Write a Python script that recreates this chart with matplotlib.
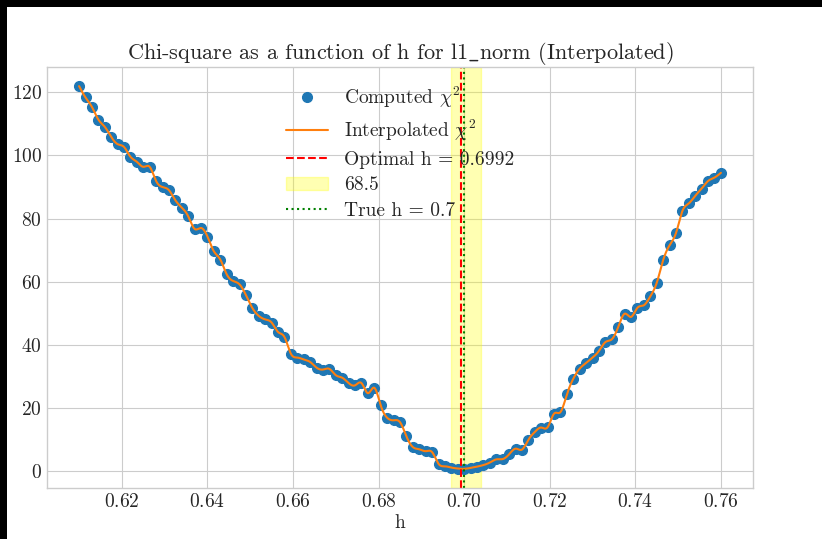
import matplotlib
matplotlib.use("Agg")
import matplotlib.pyplot as plt
import numpy as np
from matplotlib.patches import Rectangle

# grid of h values and chi-square
h_vals = np.linspace(0.61, 0.76, 101)
chi2 = [122.0, 118.4, 115.4, 111.4, 109.1, 105.9, 103.6, 102.7, 99.6, 98.0,
        96.4, 96.4, 91.9, 90.0, 89.0, 85.8, 83.5, 80.7, 76.7, 77.0,
        74.3, 69.6, 67.0, 62.3, 60.2, 59.1, 55.7, 51.6, 49.1, 48.0,
        47.0, 44.0, 42.4, 37.1, 35.9, 35.3, 34.5, 32.7, 32.1, 32.3,
        30.3, 29.5, 27.8, 27.1, 27.8, 24.6, 26.3, 20.7, 16.8, 16.0,
        15.4, 10.9, 7.5, 6.8, 6.2, 5.9, 2.2, 1.4, 1.0, 0.7,
        0.6, 0.9, 1.3, 1.8, 2.6, 3.6, 3.7, 5.2, 7.0, 6.7,
        9.8, 12.3, 13.7, 13.8, 18.1, 18.6, 24.2, 29.2, 32.4, 34.2,
        35.9, 38.0, 40.8, 41.7, 45.6, 49.8, 48.8, 51.7, 52.5, 55.3,
        59.6, 66.8, 71.5, 75.4, 82.4, 84.8, 87.2, 89.5, 91.9, 93.0,
        94.5]
h_opt = 0.6992
h_true = 0.7
band = (0.6970, 0.7040)
band_label = "68.5"


def natural_spline(x, y, xs):
    x = np.asarray(x, float)
    y = np.asarray(y, float)
    n = len(x)
    d = np.diff(x)
    A = np.zeros((n, n))
    r = np.zeros(n)
    A[0, 0] = 1
    A[-1, -1] = 1
    for i in range(1, n - 1):
        A[i, i - 1] = d[i - 1]
        A[i, i] = 2 * (d[i - 1] + d[i])
        A[i, i + 1] = d[i]
        r[i] = 6 * ((y[i + 1] - y[i]) / d[i] - (y[i] - y[i - 1]) / d[i - 1])
    M = np.linalg.solve(A, r)
    idx = np.clip(np.searchsorted(x, xs) - 1, 0, n - 2)
    x0, x1 = x[idx], x[idx + 1]
    hh = x1 - x0
    a = (x1 - xs) / hh
    b = (xs - x0) / hh
    return (a * y[idx] + b * y[idx + 1]
            + ((a ** 3 - a) * M[idx] + (b ** 3 - b) * M[idx + 1]) * hh ** 2 / 6)


plt.style.use("seaborn-v0_8-whitegrid")
plt.rcParams["font.family"] = ["cmr10", "DejaVu Serif"]
plt.rcParams["mathtext.fontset"] = "cm"
plt.rcParams["axes.formatter.use_mathtext"] = True

fig = plt.figure(figsize=(8.22, 5.39), dpi=100, facecolor="black")
fig.patches.append(Rectangle((7 / 822, 0), 1, 1 - 7 / 539, transform=fig.transFigure,
                             facecolor="white", edgecolor="none", zorder=-10))
ax = fig.add_axes([47 / 822, 1 - 488 / 539, 706 / 822, 421 / 539])

h_fine = np.linspace(h_vals[0], h_vals[-1], 1500)
chi_fine = natural_spline(h_vals, chi2, h_fine)

ax.plot(h_vals, chi2, "o", color="C0", markersize=7, label=r"Computed $\chi^2$")
ax.plot(h_fine, chi_fine, "-", color="C1", label=r"Interpolated $\chi^2$")
ax.axvline(h_opt, color="red", linestyle="--", label="Optimal h = %.4f" % h_opt)
ax.axvspan(band[0], band[1], color="yellow", alpha=0.3, label=band_label)
ax.axvline(h_true, color="green", linestyle=":", label="True h = %s" % h_true)

ax.set_title(r"Chi-square as a function of h for l1$\_$norm (Interpolated)", fontsize=16)
ax.set_xlabel("h", fontsize=14, labelpad=2)
ax.tick_params(labelsize=14)
ax.legend(loc="upper center", fontsize=14, labelspacing=0.4, handlelength=2.2)

fig.savefig("out.png", dpi=100, facecolor=fig.get_facecolor())
